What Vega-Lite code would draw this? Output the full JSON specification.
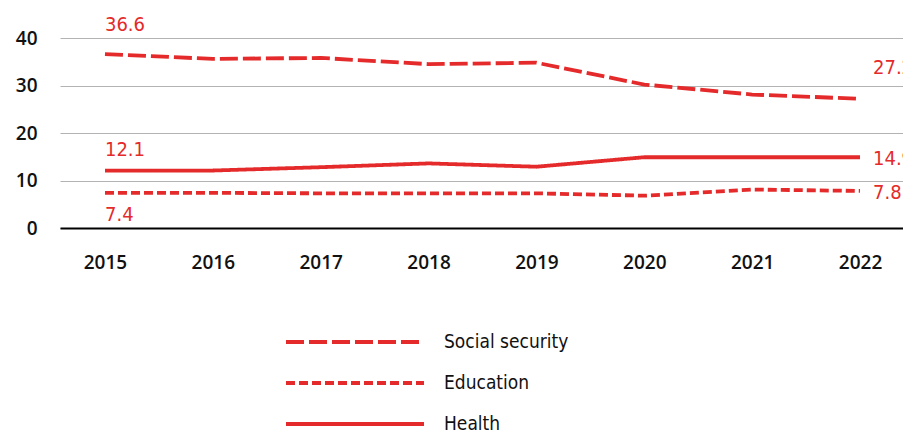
{
  "$schema": "https://vega.github.io/schema/vega-lite/v6.json",
  "width": 845,
  "height": 190,
  "autosize": {"type": "none"},
  "padding": {"left": 60, "top": 38, "right": 0, "bottom": 204},
  "background": "white",
  "config": {"view": {"stroke": null}, "font": "Open Sans"},
  "data": {
    "values": [
      {"year": "2015", "series": "Social security", "value": 36.6},
      {"year": "2016", "series": "Social security", "value": 35.6},
      {"year": "2017", "series": "Social security", "value": 35.8},
      {"year": "2018", "series": "Social security", "value": 34.5},
      {"year": "2019", "series": "Social security", "value": 34.8},
      {"year": "2020", "series": "Social security", "value": 30.2},
      {"year": "2021", "series": "Social security", "value": 28.1},
      {"year": "2022", "series": "Social security", "value": 27.2},
      {"year": "2015", "series": "Education", "value": 7.4},
      {"year": "2016", "series": "Education", "value": 7.4},
      {"year": "2017", "series": "Education", "value": 7.3},
      {"year": "2018", "series": "Education", "value": 7.3},
      {"year": "2019", "series": "Education", "value": 7.3},
      {"year": "2020", "series": "Education", "value": 6.8},
      {"year": "2021", "series": "Education", "value": 8.1},
      {"year": "2022", "series": "Education", "value": 7.8},
      {"year": "2015", "series": "Health", "value": 12.1},
      {"year": "2016", "series": "Health", "value": 12.1},
      {"year": "2017", "series": "Health", "value": 12.8},
      {"year": "2018", "series": "Health", "value": 13.6},
      {"year": "2019", "series": "Health", "value": 12.9},
      {"year": "2020", "series": "Health", "value": 14.9},
      {"year": "2021", "series": "Health", "value": 14.9},
      {"year": "2022", "series": "Health", "value": 14.9}
    ]
  },
  "encoding": {
    "x": {
      "field": "year", "type": "ordinal",
      "scale": {"type": "point", "padding": 0.417},
      "axis": {"title": null, "labelAngle": 0, "ticks": false, "domain": true, "domainColor": "#000", "domainWidth": 2.2, "grid": false, "labelFont": "Open Sans", "labelFontWeight": 600, "labelFontSize": 19, "labelColor": "#111", "labelPadding": 25}
    },
    "y": {
      "field": "value", "type": "quantitative",
      "scale": {"domain": [0, 40]},
      "axis": {"title": null, "values": [0, 10, 20, 30, 40], "ticks": false, "domain": false, "grid": true, "gridColor": "#b3b3b3", "gridWidth": 1.2, "labelFont": "Open Sans", "labelFontSize": 19, "labelFontWeight": 600, "labelColor": "#111", "labelPadding": 23}
    }
  },
  "layer": [
    {
      "mark": {"type": "line", "color": "#e42a2a", "strokeWidth": 3.8},
      "encoding": {
        "strokeDash": {
          "field": "series", "type": "nominal",
          "scale": {"domain": ["Social security", "Education", "Health"], "range": [[18, 5], [9, 4], [1, 0]]},
          "legend": {"title": null, "orient": "none", "legendX": 279, "legendY": 288, "direction": "vertical", "symbolType": "M-5,0H5", "symbolSize": 762, "symbolStrokeColor": "#e42a2a", "symbolStrokeWidth": 4, "labelFont": "DejaVu Sans Condensed", "labelFontSize": 19, "labelColor": "#111", "labelOffset": 73, "rowPadding": 15, "padding": 0}
        }
      }
    },
    {
      "transform": [{"filter": "datum.series === 'Social security' && datum.year === '2015'"}],
      "mark": {"type": "text", "color": "#e42a2a", "font": "DejaVu Sans Condensed", "fontSize": 20, "align": "left", "baseline": "alphabetic", "dy": -23},
      "encoding": {"text": {"field": "value", "type": "quantitative", "format": ".1f"}}
    },
    {
      "transform": [{"filter": "datum.series === 'Health' && datum.year === '2015'"}],
      "mark": {"type": "text", "color": "#e42a2a", "font": "DejaVu Sans Condensed", "fontSize": 20, "align": "left", "baseline": "alphabetic", "dy": -15},
      "encoding": {"text": {"field": "value", "type": "quantitative", "format": ".1f"}}
    },
    {
      "transform": [{"filter": "datum.series === 'Education' && datum.year === '2015'"}],
      "mark": {"type": "text", "color": "#e42a2a", "font": "DejaVu Sans Condensed", "fontSize": 20, "align": "left", "baseline": "alphabetic", "dy": 28},
      "encoding": {"text": {"field": "value", "type": "quantitative", "format": ".1f"}}
    },
    {
      "transform": [{"filter": "datum.series === 'Social security' && datum.year === '2022'"}],
      "mark": {"type": "text", "color": "#e42a2a", "font": "DejaVu Sans Condensed", "fontSize": 20, "align": "left", "baseline": "alphabetic", "dx": 13, "dy": -25},
      "encoding": {"text": {"field": "value", "type": "quantitative", "format": ".1f"}}
    },
    {
      "transform": [{"filter": "datum.series !== 'Social security' && datum.year === '2022'"}],
      "mark": {"type": "text", "color": "#e42a2a", "font": "DejaVu Sans Condensed", "fontSize": 20, "align": "left", "baseline": "alphabetic", "dx": 13, "dy": 8},
      "encoding": {"text": {"field": "value", "type": "quantitative", "format": ".1f"}}
    }
  ]
}
